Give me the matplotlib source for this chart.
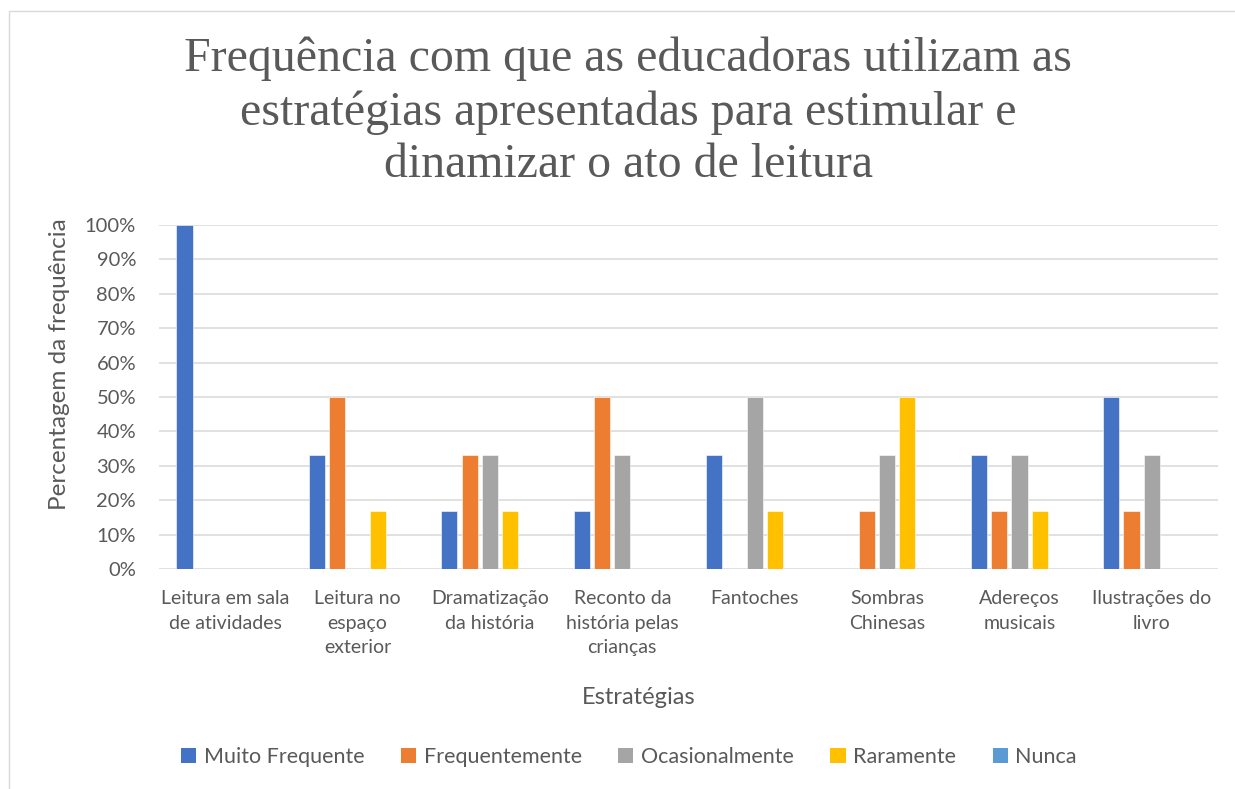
import matplotlib
matplotlib.use("Agg")
import matplotlib.pyplot as plt
from matplotlib.patches import Rectangle, Patch
import numpy as np

categories = ["Leitura em sala\nde atividades", "Leitura no\nespaço\nexterior", "Dramatização\nda história",
              "Reconto da\nhistória pelas\ncrianças", "Fantoches", "Sombras\nChinesas",
              "Adereços\nmusicais", "Ilustrações do\nlivro"]
series_names = ["Muito Frequente", "Frequentemente", "Ocasionalmente", "Raramente", "Nunca"]
muito_frequente = [100, 33, 17, 17, 33, 0, 33, 50]
frequentemente = [0, 50, 33, 50, 0, 17, 17, 17]
ocasionalmente = [0, 0, 33, 33, 50, 33, 33, 33]
raramente = [0, 17, 17, 0, 17, 50, 17, 0]
nunca = [0, 0, 0, 0, 0, 0, 0, 0]
colors = ["#4472C4", "#ED7D31", "#A5A5A5", "#FFC000", "#5B9BD5"]
yticks = [0, 10, 20, 30, 40, 50, 60, 70, 80, 90, 100]

W, H = 1235, 789
fig = plt.figure(figsize=(W / 100, H / 100), dpi=100)
fig.patch.set_facecolor("white")

# chart border
fig.patches.append(Rectangle((9 / W, -0.1), 1.2, (H - 11) / H + 0.1, transform=fig.transFigure,
                             fill=False, edgecolor="#D9D9D9", linewidth=1.0))

ax = fig.add_axes([159 / W, (H - 569) / H, (1218 - 159) / W, (569 - 225) / H])
font = "Lato"
txtc = "#595959"

data = [muito_frequente, frequentemente, ocasionalmente, raramente, nunca]
x = np.arange(len(categories))
step = 0.1533
bw = 0.123
for i, (vals, c) in enumerate(zip(data, colors)):
    ax.bar(x + (i - 2) * step, vals, width=bw, color=c, edgecolor="white", linewidth=0.4, zorder=3)

ax.set_xlim(-0.5, len(categories) - 0.5)
ax.set_ylim(0, 100)
ax.set_yticks(yticks)
ax.set_yticklabels([f"{v}%" for v in yticks], fontfamily=font, fontsize=14.5, color=txtc)
ax.set_xticks(x)
ax.set_xticklabels(categories, fontfamily=font, fontsize=14, color=txtc, linespacing=1.55, va="top")
ax.tick_params(axis="both", length=0)
ax.tick_params(axis="y", pad=16.5)
ax.tick_params(axis="x", pad=15)
for s in ax.spines.values():
    s.set_visible(False)
ax.yaxis.grid(True, color="#D9D9D9", linewidth=1.1, zorder=0)
ax.set_axisbelow(True)

fig.text(60 / W, 1 - 364 / H, "Percentagem da frequência", rotation=90, ha="center", va="center",
         fontfamily=font, fontsize=17.5, color=txtc)
fig.text(639 / W, 1 - 697 / H, "Estratégias", ha="center", va="center", fontfamily=font,
         fontsize=17, color=txtc)

fig.text(628 / W, 1 - 112 / H,
         "Frequência com que as educadoras utilizam as\nestratégias apresentadas para estimular e\ndinamizar o ato de leitura",
         ha="center", va="center", fontfamily="Liberation Serif", fontsize=34.5, color=txtc, linespacing=1.25)

handles = [Patch(facecolor=c, edgecolor="none") for c in colors]
leg = fig.legend(handles, series_names, loc="center", bbox_to_anchor=(629 / W, 1 - 757 / H), ncol=5,
                 frameon=False, prop={"family": font, "size": 15.5}, handlelength=0.7, handleheight=0.7,
                 handletextpad=0.35, columnspacing=1.7)
for t in leg.get_texts():
    t.set_color(txtc)

fig.savefig("out.png", dpi=100)
